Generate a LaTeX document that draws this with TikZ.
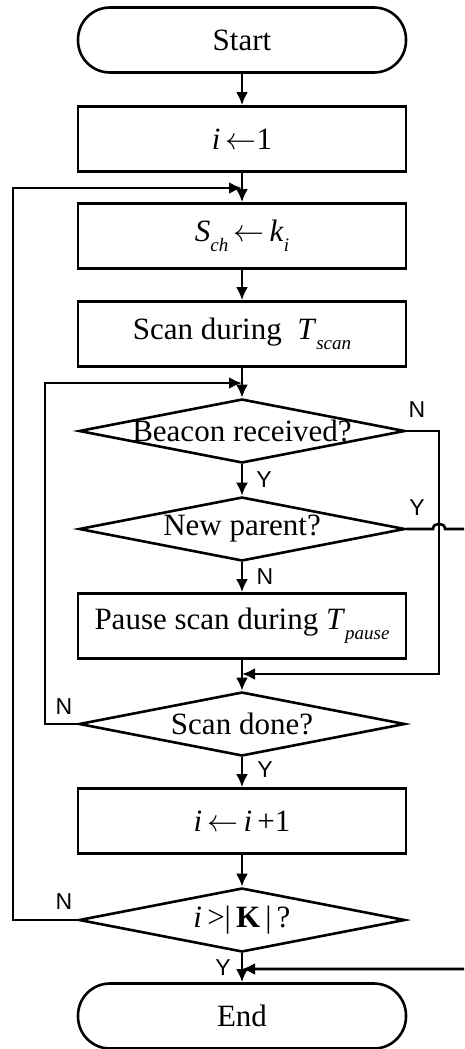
\RequirePackage{fix-cm}
\documentclass[tikz,border=0pt]{standalone}
\usepackage{fontspec}
\setmainfont{Liberation Serif}
\newfontfamily\lblfont{Liberation Sans}
\usetikzlibrary{shapes.geometric,arrows.meta}

% italic subscript, set smaller and lowered
\newcommand\isub[1]{\raisebox{-0.32em}{\fontsize{19}{20}\selectfont\textit{#1}}}
% assignment arrow
\newcommand\getsarrow{\ensuremath{\leftarrow}}

\begin{document}
\begin{tikzpicture}[x=1pt,y=-1pt, line width=2.6pt,
  >={Latex[length=13pt,width=12pt]},
  big/.style={font=\fontsize{31}{34}\selectfont},
  proc/.style={draw, rectangle, minimum width=328pt, minimum height=65pt, inner sep=0pt, big},
  term/.style={proc, rounded corners=32pt},
  decis/.style={draw, diamond, minimum width=326pt, minimum height=64pt, inner sep=0pt},
  dtext/.style={big, inner sep=0pt},
  yn/.style={font=\lblfont\fontsize{23}{25}\selectfont, inner sep=0pt}]

\useasboundingbox (0,0) rectangle (464,1049);
\clip (0,0) rectangle (464,1049);

% main column
\node[term] (start) at (242,40) {Start};
\node[proc] (init) at (242,139) {\textit{i}\,\getsarrow1};
\node[proc] (sch) at (242,236) {\textit{S}\isub{ch}\,\getsarrow\,\textit{k}\isub{i}};
\node[proc] (scan) at (242,334) {Scan during\ \ \textit{T}\isub{scan}};
\node[decis] (beacon) at (242,431) {};
\node[dtext] at (beacon.center) {Beacon received?};
\node[decis] (newp) at (242,529) {};
\node[dtext] at (newp.center) {New parent?};
\node[proc] (pause) at (242,626) {Pause scan during \textit{T}\isub{pause}};
\node[decis] (done) at (242,724) {};
\node[dtext] at (done.center) {Scan done?};
\node[proc] (inc) at (242,821) {\textit{i}\,\getsarrow\,\textit{i}\,+1};
\node[decis] (chk) at (242,920) {};
\node[dtext] at (chk.center) {\textit{i}\,>|\,\textbf{K}\,|\,?};
\node[term] (end) at (242,1016) {End};

% junction points on the column
\coordinate (jA) at (242,188);
\coordinate (jB) at (242,383);
\coordinate (jC) at (242,674);
\coordinate (jD) at (242,969);

% straight flow
\draw[->] (start) -- (init);
\draw[->] (init) -- (sch);
\draw[->] (sch) -- (scan);
\draw[->] (scan) -- (beacon);
\draw[->] (beacon) -- (newp);
\draw[->] (newp) -- (pause);
\draw[->] (pause) -- (done);
\draw[->] (done) -- (inc);
\draw[->] (inc) -- (chk);
\draw[->] (chk) -- (end);

% loops and side branches
\draw[->] (chk.west) -- (13,920) -- (13,188) -- (jA);
\draw[->] (done.west) -- (45,724) -- (45,383) -- (jB);
\draw[->] (beacon.east) -- (439,431) -- (439,674) -- (jC);
\draw[->] (newp.east) -- (433,529) .. controls (433,522) and (445,522) .. (445,529)
  -- (472,529) -- (472,969) -- (jD);

% branch labels
\node[yn] at (417,410) {N};
\node[yn] at (264,480) {Y};
\node[yn] at (417,508) {Y};
\node[yn] at (265,577) {N};
\node[yn] at (64,707) {N};
\node[yn] at (265,770) {Y};
\node[yn] at (64,902) {N};
\node[yn] at (223,968) {Y};
\end{tikzpicture}
\end{document}
